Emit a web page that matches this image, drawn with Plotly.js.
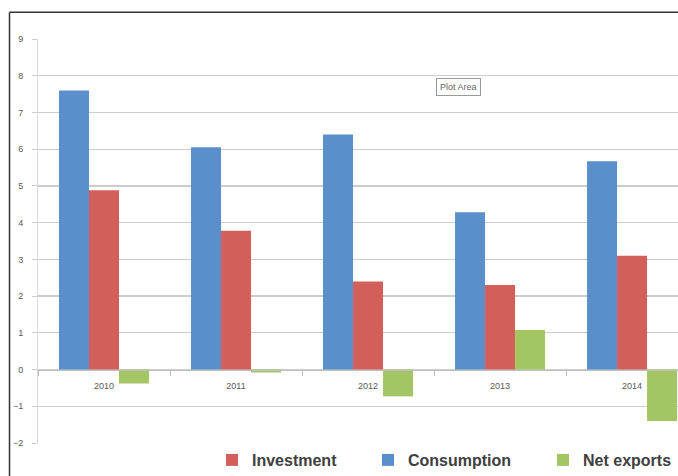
<!DOCTYPE html>
<html>
<head>
<meta charset="utf-8">
<script src="https://cdn.plot.ly/plotly-3.0.1.min.js"></script>
<style>html,body{margin:0;padding:0;background:#fff;}#chart{width:678px;height:476px;}</style>
</head>
<body>
<div id="chart"></div>
<script>
const years = ['2010', '2011', '2012', '2013', '2014'];
const consumption = [7.6, 6.05, 6.4, 4.28, 5.67];
const investment = [4.88, 3.78, 2.4, 2.3, 3.1];
const netExports = [-0.38, -0.08, -0.73, 1.08, -1.4];
const yTicks = [-2, -1, 0, 1, 2, 3, 4, 5, 6, 7, 8, 9];

const legendFont = {family: 'Liberation Sans, Arial, sans-serif', size: 16, color: '#404040', weight: 'bold'};
const mkLegend = (xpx) => ({
  orientation: 'h', xref: 'container', yref: 'container',
  x: xpx / 678, xanchor: 'left', y: 1 - 460 / 476, yanchor: 'middle',
  font: legendFont, bgcolor: 'rgba(0,0,0,0)', borderwidth: 0, itemwidth: 30
});

const traces = [
  {type: 'bar', name: 'Consumption', x: years, y: consumption, marker: {color: '#5a8fcb'}, legend: 'legend2'},
  {type: 'bar', name: 'Investment', x: years, y: investment, marker: {color: '#d35f5a'}, legend: 'legend'},
  {type: 'bar', name: 'Net exports', x: years, y: netExports, marker: {color: '#a3c564'}, legend: 'legend3'}
];

const layout = {
  width: 678, height: 476,
  margin: {l: 38, r: 0, t: 39, b: 29, pad: 0},
  paper_bgcolor: '#ffffff', plot_bgcolor: '#ffffff',
  barmode: 'group', bargap: 0.318, bargroupgap: 0,
  showlegend: true,
  font: {family: 'Liberation Sans, Arial, sans-serif', color: '#595959'},
  xaxis: {
    type: 'category', range: [-0.5, 4.348], anchor: 'free', position: 2 / 11,
    tickson: 'boundaries', ticks: 'outside', ticklen: 5, tickcolor: '#bfbfbf',
    ticklabelstandoff: 8,
    showline: true, linecolor: '#bfbfbf', linewidth: 1, showgrid: false,
    tickfont: {size: 9, color: '#595959'}, fixedrange: true
  },
  yaxis: {
    range: [-2, 9], tickvals: yTicks, ticks: 'outside', ticklen: 5, tickcolor: '#cccccc',
    ticklabelstandoff: 7,
    showline: true, linecolor: '#d9d9d9', linewidth: 1,
    showgrid: true, gridcolor: '#cccccc', gridwidth: 1.2, zeroline: false,
    tickfont: {size: 9, color: '#595959'}, fixedrange: true
  },
  legend: mkLegend(212),
  legend2: mkLegend(368),
  legend3: mkLegend(543),
  annotations: [{
    text: 'Plot Area', xref: 'paper', yref: 'paper', x: (458 - 38) / 640, y: 1 - (87 - 39) / 408,
    xanchor: 'center', yanchor: 'middle',
    showarrow: false, font: {size: 9, color: '#666666'}, bgcolor: '#ffffff',
    bordercolor: '#9a9a9a', borderwidth: 1, borderpad: 3
  }],
  shapes: [
    {type: 'line', xref: 'paper', yref: 'paper', x0: (9.5 - 38) / 640, x1: (9.5 - 38) / 640, y0: 1 + (39 - 12) / 408, y1: -0.2, line: {color: '#333333', width: 1.5}},
    {type: 'line', xref: 'paper', yref: 'paper', x0: (9.5 - 38) / 640, x1: 1.1, y0: 1 + (39 - 12) / 408, y1: 1 + (39 - 12) / 408, line: {color: '#333333', width: 1.5}}
  ]
};

Plotly.newPlot('chart', traces, layout, {displayModeBar: false, staticPlot: true});
</script>
</body>
</html>
